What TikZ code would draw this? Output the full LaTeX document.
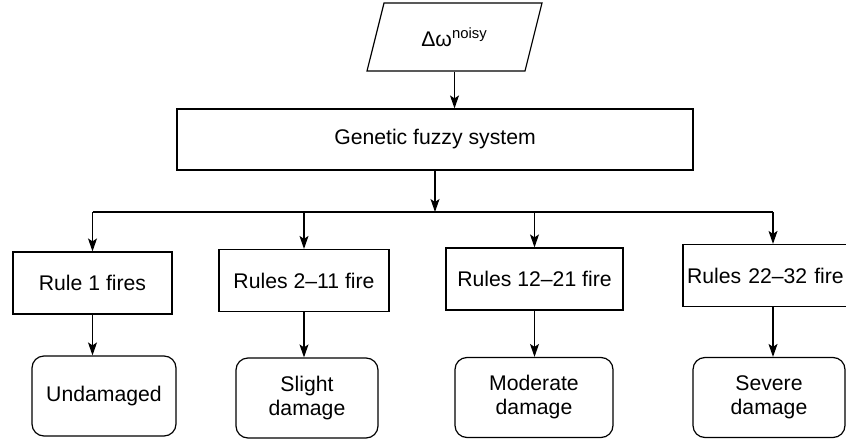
\documentclass[tikz,border=0pt]{standalone}
\usepackage{fontspec}
\setmainfont{Liberation Sans}
\usetikzlibrary{arrows.meta,shapes.geometric}

\tikzset{
	box/.style={draw, line width=0.6pt, inner sep=2pt, font=\fontsize{10.6}{12}\selectfont, align=center},
	rulebox/.style={box, minimum height=31pt},
	damagebox/.style={box, rounded corners=6pt, minimum height=40pt},
	inbox/.style={box, trapezium, trapezium left angle=57.7, trapezium right angle=122.3, trapezium stretches body, minimum width=87.5pt, minimum height=34pt},
	arr/.style={line width=0.6pt, -{Stealth[length=6.5pt,width=4.5pt,inset=1.5pt]}},
	wire/.style={line width=0.6pt}
}

\begin{document}
\begin{tikzpicture}[x=0.5pt, y=-0.5pt]
			%%%%% START %%%%%
			\useasboundingbox (0, 0) rectangle (846, 439);
			
			\node[inbox] (dw) at (454.5, 37) {Δω\textsuperscript{noisy}};
			\node[box, minimum width=258pt, minimum height=30.5pt] (gfs) at (435, 139.5) {Genetic fuzzy system};
			\coordinate (split) at (435, 212);
			
			\node[rulebox, minimum width=79.5pt] (r1) at (92.5, 283) {Rule 1 fires};
			\node[rulebox, minimum width=85pt] (r2) at (304, 280.5) {Rules 2--11 fire};
			\node[rulebox, minimum width=88.5pt] (r3) at (534.5, 279) {Rules 12--21 fire};
			\node[rulebox, text width=86pt, align=left] (r4) at (773, 275.5) {Rules 22--32 fire};
			
			\node[damagebox, minimum width=72pt] (o1) at (104, 396) {Undamaged};
			\node[damagebox, minimum width=71pt] (o2) at (307, 398) {Slight\\damage};
			\node[damagebox, minimum width=79pt] (o3) at (534, 397.5) {Moderate\\damage};
			\node[damagebox, minimum width=76pt] (o4) at (769, 397.5) {Severe\\damage};
			
			\draw[arr] (dw.south) -- (dw.south |- gfs.north);
			\draw[arr] (gfs.south) -- (split);
			\draw[wire] (r1.north |- split) -- (r4.north |- split);
			
			\foreach \r/\o in {r1/o1, r2/o2, r3/o3, r4/o4} {
				\draw[arr] (\r.north |- split) -- (\r.north);
				\draw[arr] (\r.south) -- (\r.south |- \o.north);
			}
			%%%%% END %%%%%
\end{tikzpicture}
\end{document}
